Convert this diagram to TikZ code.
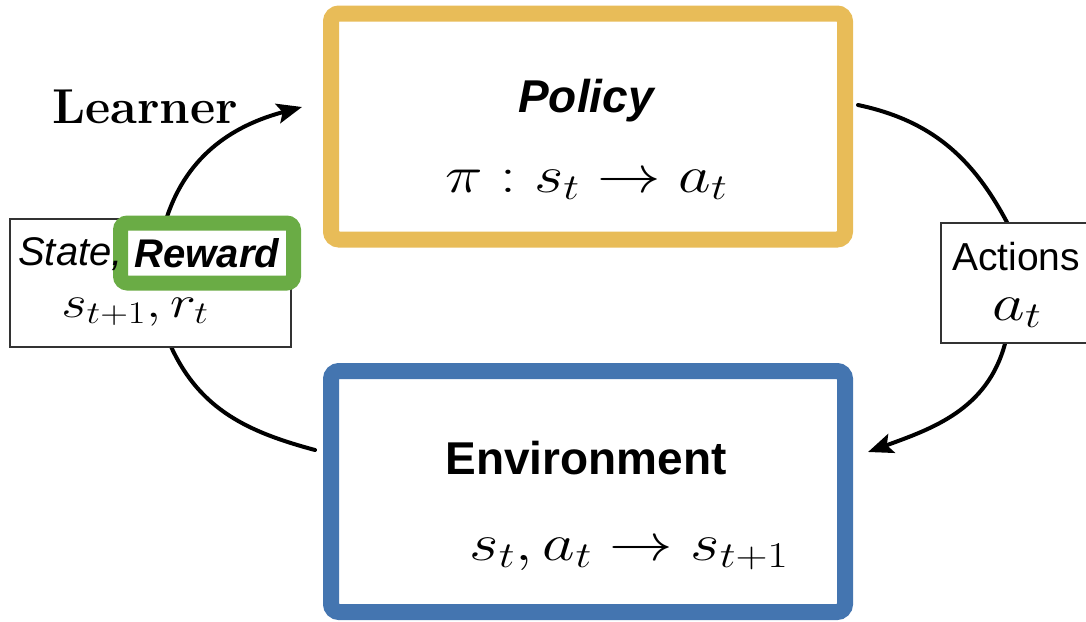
\RequirePackage{fix-cm}
\documentclass[tikz,border=0pt]{standalone}
\usepackage{graphicx}
\usepackage{fontspec}
\setsansfont{Liberation Sans}
\usetikzlibrary{arrows.meta}
\definecolor{polyellow}{HTML}{E8BC58}
\definecolor{envblue}{HTML}{4475B0}
\definecolor{rwgreen}{HTML}{6AAC45}
\definecolor{boxgray}{HTML}{333333}
\pgfdeclarelayer{bg}
\pgfsetlayers{bg,main}
\newcommand{\wmath}[1]{\scalebox{1.22}[1]{$#1$}}
\tikzset{
  bigbox/.style={draw, line width=16pt, rounded corners=8pt, fill=white, inner sep=0pt},
  labelbox/.style={draw=boxgray, line width=1.3pt, fill=white, inner sep=0pt},
  rewardbox/.style={draw=rwgreen, line width=15pt, rounded corners=7pt, fill=white, inner sep=0pt,
     minimum width=173pt, minimum height=60pt, text height=29pt, text depth=0pt},
  mathtxt/.style={font=\fontsize{52}{56}\selectfont, inner sep=0pt},
  smallmath/.style={font=\fontsize{45}{50}\selectfont, inner sep=0pt},
  flow/.style={line width=4pt, line cap=round},
  tip/.style={-{Stealth[length=25pt,width=20pt,inset=5pt]}}
}
\begin{document}
\begin{tikzpicture}[x=1pt,y=1pt]
\useasboundingbox (0,0) rectangle (1086,-621);
\clip (0,0) rectangle (1086,-621);

% main boxes
\node[bigbox, draw=polyellow, minimum width=514pt, minimum height=226pt] (policy) at (588,-126.5) {};
\node[bigbox, draw=envblue, minimum width=514pt, minimum height=241pt] (env) at (588,-491.5) {};

\node[anchor=base, inner sep=0pt, font=\sffamily\bfseries\itshape\fontsize{46}{50}\selectfont] (policytitle) at (586,-112) {Policy};
\node[anchor=base, mathtxt] (policymath) at (586.5,-192) {\wmath{\pi : s_t \to a_t}};

\node[anchor=base, inner sep=0pt, font=\sffamily\bfseries\fontsize{46}{50}\selectfont] (envtitle) at (586,-474) {Environment};
\node[anchor=base, mathtxt] (envmath) at (629,-560) {\wmath{s_t, a_t \to s_{t+1}}};

% learner label
\node[anchor=base, inner sep=0pt, font=\bfseries\fontsize{49}{53}\selectfont] (learner) at (145,-123) {Learner};

% state / reward box
\node[labelbox, minimum width=281pt, minimum height=128pt] (state) at (150.5,-283) {};
\node[anchor=base, smallmath] (statemath) at (135,-317) {\wmath{s_{t+1}, r_t}};
\node[rewardbox, font=\sffamily\bfseries\itshape\fontsize{40}{44}\selectfont] (reward) at (207,-253) {Reward};
\node[anchor=base west, inner sep=0pt, font=\sffamily\itshape\fontsize{40}{44}\selectfont] (statetxt) at (18,-265) {State,};

% actions box
\node[labelbox, minimum width=170pt, minimum height=120pt] (actions) at (1026,-283) {};
\node[anchor=base, inner sep=0pt, font=\sffamily\fontsize{39}{43}\selectfont] (actionstxt) at (1016,-270) {Actions};
\node[anchor=base, mathtxt] (actionsmath) at (1017,-320) {\wmath{a_t}};

% connectors
\begin{pgfonlayer}{bg}
\draw[flow] ([xshift=21pt]state.south) to[out=-65,in=165] ([xshift=-8pt,yshift=41.5pt]env.west);
\draw[flow, tip] ([xshift=16pt]state.north) to[out=72,in=195] ([xshift=-21pt,yshift=19.5pt]policy.west);
\draw[flow] ([xshift=5pt,yshift=21.5pt]policy.east) to[out=-12,in=118] ([xshift=-19pt]actions.north);
\draw[flow, tip] ([xshift=-21pt]actions.south) to[out=-105,in=20] ([xshift=15pt,yshift=39.5pt]env.east);
\end{pgfonlayer}
\end{tikzpicture}
\end{document}
